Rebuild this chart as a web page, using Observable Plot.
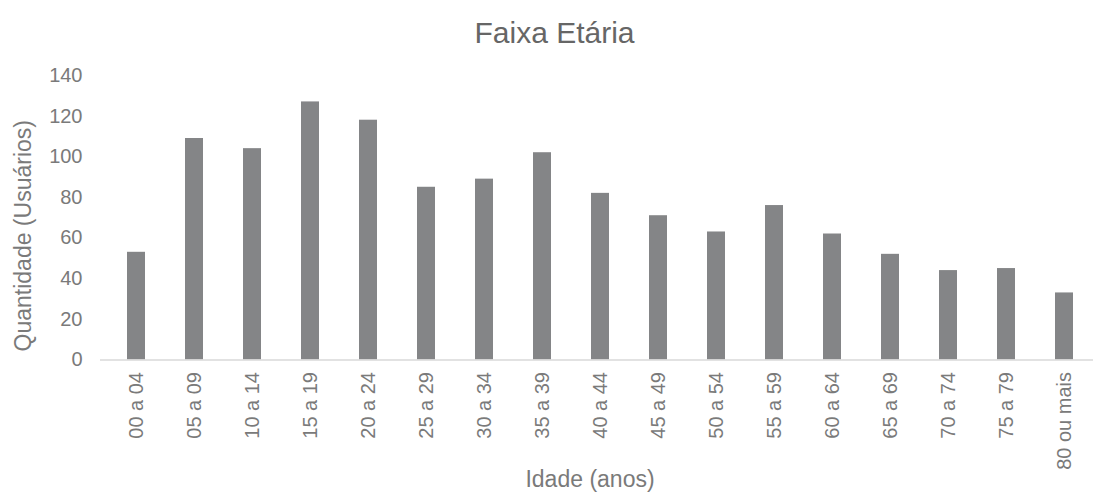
<!DOCTYPE html>
<html>
<head>
<meta charset="utf-8">
<script src="https://cdn.jsdelivr.net/npm/d3@7"></script>
<script src="https://cdn.jsdelivr.net/npm/@observablehq/plot@0.6"></script>
<style>
  html, body { margin: 0; padding: 0; background: #fff; }
  #chart svg { display: block; }
</style>
</head>
<body>
<div id="chart"></div>
<script>
const categories = ["00 a 04","05 a 09","10 a 14","15 a 19","20 a 24","25 a 29","30 a 34","35 a 39","40 a 44","45 a 49","50 a 54","55 a 59","60 a 64","65 a 69","70 a 74","75 a 79","80 ou mais"];
const values = [53, 109, 104, 127, 118, 85, 89, 102, 82, 71, 63, 76, 62, 52, 44, 45, 33];
const yTicks = [0, 20, 40, 60, 80, 100, 120, 140];
const chartTitle = "Faixa Etária";
const xTitle = "Idade (anos)";
const yTitle = "Quantidade (Usuários)";

const data = categories.map((c, i) => ({faixa: c, qtd: values[i]}));
const font = "'Liberation Sans', Arial, sans-serif";

const chart = Plot.plot({
  width: 1093,
  height: 493,
  marginLeft: 100,
  marginRight: 0,
  marginTop: 75,
  marginBottom: 133.5,
  style: {fontFamily: font, fontSize: "20px", color: "#7a7a7a", background: "#fff"},
  x: {
    type: "band",
    domain: categories,
    range: [100, 1100],
    paddingInner: 0.69,
    paddingOuter: 0.345
  },
  y: {domain: [0, 140]},
  marks: [
    Plot.axisY({ticks: yTicks, tickSize: 0, tickPadding: 18, label: null, fontSize: 20, fill: "#7a7a7a"}),
    Plot.axisX({tickSize: 0, tickPadding: 12, tickRotate: -90, label: null, fontSize: 20, fill: "#7a7a7a"}),
    Plot.barY(data, {x: "faixa", y: "qtd", fill: "#848587"}),
    Plot.ruleY([0], {stroke: "#d9d9d9", strokeWidth: 1.5}),
    Plot.text([chartTitle], {frameAnchor: "top", textAnchor: "middle", dx: -42.5, dy: -42, fontSize: 30, fill: "#666666", lineAnchor: "middle"}),
    Plot.text([xTitle], {frameAnchor: "bottom", textAnchor: "middle", dx: -7, dy: 120, fontSize: 23, fill: "#7a7a7a", lineAnchor: "middle"}),
    Plot.text([yTitle], {frameAnchor: "left", textAnchor: "middle", rotate: -90, dx: -77, dy: 18, fontSize: 23, fill: "#7a7a7a", lineAnchor: "middle"})
  ]
});
document.getElementById("chart").appendChild(chart);
</script>
</body>
</html>
